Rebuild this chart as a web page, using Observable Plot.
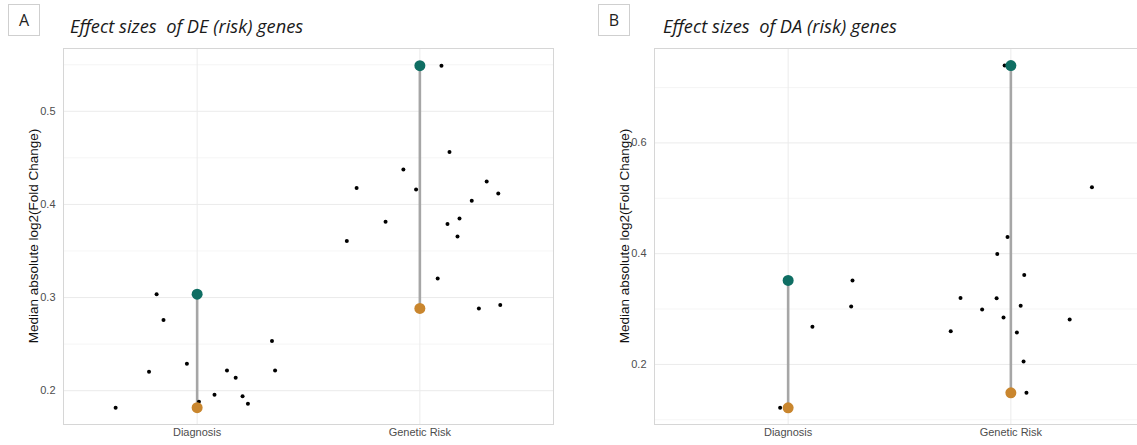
<!DOCTYPE html>
<html>
<head>
<meta charset="utf-8">
<script src="https://cdn.jsdelivr.net/npm/d3@7"></script>
<script src="https://cdn.jsdelivr.net/npm/@observablehq/plot@0.6"></script>
<style>
  body { margin: 0; background: #fff; }
  #wrap { position: relative; width: 1137px; height: 445px; overflow: hidden; background: #fff; }
  .panel { position: absolute; top: 0; width: 590px; height: 445px; }
  .panel svg { max-width: none !important; }
  .tag { position: absolute; top: 4px; width: 32px; height: 32px; border: 1px solid #cfcfcf; box-sizing: border-box;
         font: 16px "Open Sans", sans-serif; color: #222; display: flex; align-items: center; justify-content: center; }
  .title { position: absolute; top: 15px; font: italic 18.3px "Open Sans", sans-serif; color: #1a1a1a; white-space: pre; line-height: 1.2; }
  .ylab { position: absolute; font: 13.5px "Liberation Sans", Arial, sans-serif; color: #111; white-space: nowrap;
          transform: translate(-50%, -50%) rotate(-90deg); }
</style>
</head>
<body>
<div id="wrap"></div>
<script>
// ---------- data ----------
const categories = ["Diagnosis", "Genetic Risk"];

// Panel A: DE (risk) genes
const deDiagnosisValues = [0.1818, 0.2204, 0.3036, 0.2758, 0.2289, 0.1882, 0.1957, 0.2218, 0.2139, 0.1940, 0.1861, 0.2533, 0.2218];
const deDiagnosisJitter = [-0.366, -0.216, -0.182, -0.151, -0.046, 0.008, 0.078, 0.134, 0.173, 0.204, 0.228, 0.336, 0.350];
const deGeneticValues = [0.5490, 0.4564, 0.4375, 0.4175, 0.4161, 0.4246, 0.4118, 0.4039, 0.3813, 0.3790, 0.3848, 0.3655, 0.3608, 0.3205, 0.2883, 0.2919];
const deGeneticJitter = [0.097, 0.133, -0.074, -0.284, -0.017, 0.300, 0.352, 0.233, -0.154, 0.124, 0.178, 0.169, -0.328, 0.080, 0.265, 0.361];

// Panel B: DA (risk) genes
const daDiagnosisValues = [0.1217, 0.2679, 0.3047, 0.3516];
const daDiagnosisJitter = [-0.036, 0.109, 0.283, 0.289];
const daGeneticValues = [0.7397, 0.5200, 0.4301, 0.3995, 0.3616, 0.3200, 0.3194, 0.3058, 0.2993, 0.2848, 0.2812, 0.2601, 0.2577, 0.2054, 0.1487];
const daGeneticJitter = [-0.028, 0.364, -0.015, -0.061, 0.060, -0.226, -0.064, 0.044, -0.129, -0.033, 0.264, -0.270, 0.027, 0.057, 0.070];

const deYDomain = [0.1637, 0.5674];
const daYDomain = [0.0915, 0.7705];
const deMajorTicks = [0.2, 0.3, 0.4, 0.5];
const deMinorTicks = [0.25, 0.35, 0.45, 0.55];
const daMajorTicks = [0.2, 0.4, 0.6];
const daMinorTicks = [0.1, 0.3, 0.5, 0.7];

const titles = ["Effect sizes  of DE (risk) genes", "Effect sizes  of DA (risk) genes"];
const tags = ["A", "B"];
const yLabel = "Median absolute log2(Fold Change)";

const maxColor = "#0f6e63";
const minColor = "#c9862e";

// ---------- build ----------
function groupRows(groups) {
  const pts = [], ends = [];
  groups.forEach(([vals, jit], i) => {
    vals.forEach((v, j) => pts.push({x: i + jit[j], y: v}));
    ends.push({x: i, lo: d3.min(vals), hi: d3.max(vals)});
  });
  return {pts, ends};
}

function panel(groups, yDomain, major, minor) {
  const {pts, ends} = groupRows(groups);
  return Plot.plot({
    width: 590, height: 445,
    marginLeft: 63, marginRight: 37, marginTop: 48, marginBottom: 21,
    style: {fontFamily: "'Liberation Sans', Arial, sans-serif", fontSize: "11px", color: "#4d4d4d", background: "transparent", maxWidth: "none"},
    x: {domain: [-0.6, 1.6], axis: null},
    y: {domain: yDomain, axis: null},
    marks: [
      Plot.ruleY(minor, {stroke: "#f2f2f2", strokeWidth: 0.8}),
      Plot.ruleY(major, {stroke: "#ebebeb", strokeWidth: 1}),
      Plot.ruleX([0, 1], {stroke: "#ebebeb", strokeWidth: 1}),
      Plot.frame({stroke: "#d6d6d6"}),
      Plot.axisY(major, {tickSize: 0, tickPadding: 8, tickFormat: d3.format(".1f"), label: null, fill: "#4d4d4d"}),
      Plot.axisX([0, 1], {tickSize: 0, tickPadding: 4, tickFormat: i => categories[i], label: null, fill: "#4d4d4d"}),
      Plot.link(ends, {x1: "x", x2: "x", y1: "lo", y2: "hi", stroke: "#a6a6a6", strokeWidth: 2.6}),
      Plot.dot(pts, {x: "x", y: "y", r: 2, fill: "#000"}),
      Plot.dot(ends, {x: "x", y: "lo", r: 5.5, fill: minColor}),
      Plot.dot(ends, {x: "x", y: "hi", r: 5.5, fill: maxColor})
    ]
  });
}

const wrap = document.getElementById("wrap");
const panels = [
  {left: 0, groups: [[deDiagnosisValues, deDiagnosisJitter], [deGeneticValues, deGeneticJitter]], y: deYDomain, major: deMajorTicks, minor: deMinorTicks, tagLeft: 8, titleLeft: 70, ylabX: 33},
  {left: 591, groups: [[daDiagnosisValues, daDiagnosisJitter], [daGeneticValues, daGeneticJitter]], y: daYDomain, major: daMajorTicks, minor: daMinorTicks, tagLeft: 598, titleLeft: 663, ylabX: 624}
];
panels.forEach((p, i) => {
  const div = document.createElement("div");
  div.className = "panel";
  div.style.left = p.left + "px";
  div.appendChild(panel(p.groups, p.y, p.major, p.minor));
  wrap.appendChild(div);

  const tag = document.createElement("div");
  tag.className = "tag"; tag.style.left = p.tagLeft + "px"; tag.textContent = tags[i];
  wrap.appendChild(tag);

  const t = document.createElement("div");
  t.className = "title"; t.style.left = p.titleLeft + "px"; t.textContent = titles[i];
  wrap.appendChild(t);

  const yl = document.createElement("div");
  yl.className = "ylab"; yl.style.left = p.ylabX + "px"; yl.style.top = "236px"; yl.textContent = yLabel;
  wrap.appendChild(yl);
});
</script>
</body>
</html>
